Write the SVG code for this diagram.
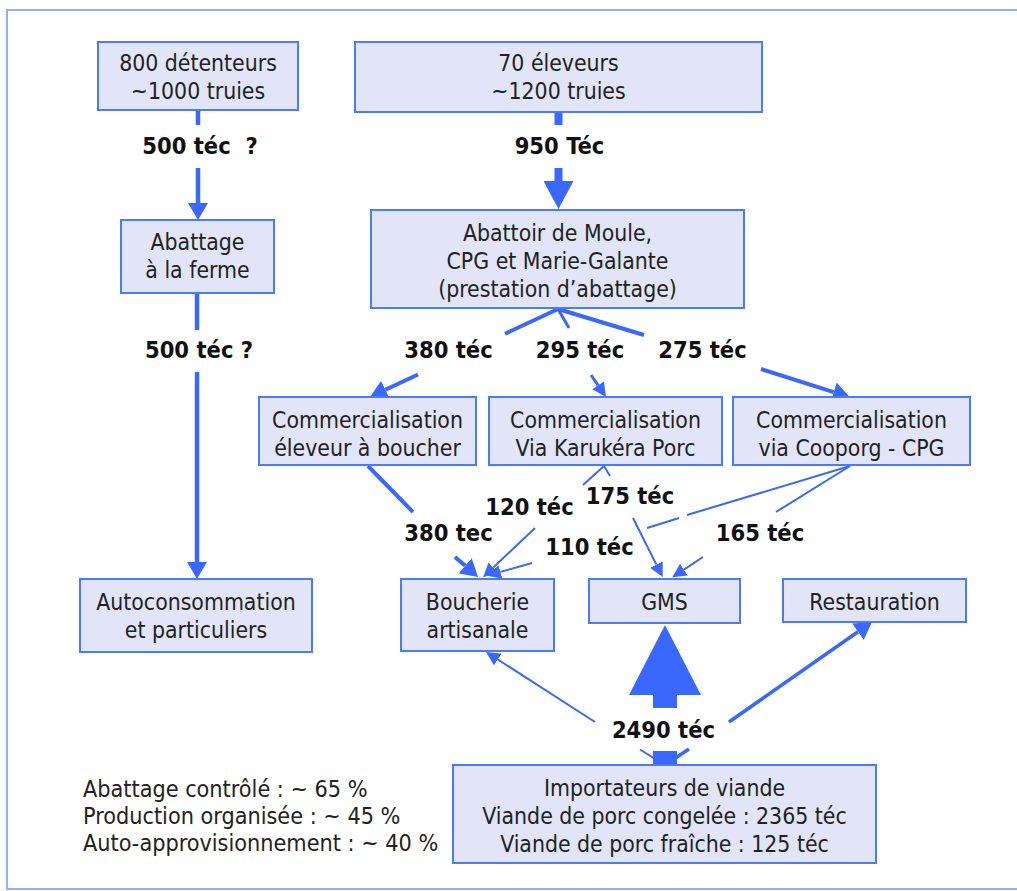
<svg xmlns="http://www.w3.org/2000/svg" width="1017" height="891" viewBox="0 0 1017 891">
<style>
.box{fill:#e1e5f7;stroke:#4a7bff;stroke-width:2}
.t{font-family:"DejaVu Sans Condensed","DejaVu Sans",sans-serif;font-stretch:condensed;font-size:22.8px;fill:#222;text-anchor:middle}
.lg{font-family:"DejaVu Sans Condensed","DejaVu Sans",sans-serif;font-stretch:condensed;font-size:23.2px;fill:#222}
.lbl{font-family:"DejaVu Sans Condensed","DejaVu Sans",sans-serif;font-stretch:condensed;font-size:23.5px;font-weight:bold;fill:#111;text-anchor:middle}
.c{fill:none;stroke:#3a68ff;stroke-linecap:butt}
.w4{stroke-width:4}
.w3{stroke-width:3}
.w2{stroke-width:2}
</style>
<defs>
<marker id="am" markerUnits="userSpaceOnUse" markerWidth="17" markerHeight="20" refX="0" refY="10" orient="auto" viewBox="0 0 17 20"><path d="M0,0 L17,10 L0,20 z" fill="#3a68ff"/></marker>
<marker id="as" markerUnits="userSpaceOnUse" markerWidth="14" markerHeight="14" refX="0" refY="7" orient="auto" viewBox="0 0 14 14"><path d="M0,0 L14,7 L0,14 z" fill="#3a68ff"/></marker>
<marker id="al" markerUnits="userSpaceOnUse" markerWidth="28" markerHeight="30" refX="0" refY="15" orient="auto" viewBox="0 0 28 30"><path d="M0,0 L28,15 L0,30 z" fill="#3a68ff"/></marker>
<marker id="ax" markerUnits="userSpaceOnUse" markerWidth="70" markerHeight="72" refX="0" refY="36" orient="auto" viewBox="0 0 70 72"><path d="M0,0 L70,36 L0,72 z" fill="#3a68ff"/></marker>
</defs>
<rect x="7" y="10" width="1020" height="879" fill="#fff" stroke="#8fb2f7" stroke-width="2"/>

<g id="connectors">
<path class="c" style="stroke-width:4.5" d="M198,110 V125 M198,168 V203" marker-end="url(#am)"/>
<path class="c" style="stroke-width:4.5" d="M197,293 V330 M197,372 V562" marker-end="url(#am)"/>
<path class="c" style="stroke-width:8" d="M558.5,112 V125 M558.5,168 V181" marker-end="url(#al)"/>
<path class="c w4" d="M558,309 L505,333.8 M418,374.5 L385.4,389.8" marker-end="url(#am)"/>
<path class="c w3" d="M558,309 L569,328 M591,375 L598.1,385.4" marker-end="url(#as)"/>
<path class="c w4" d="M558,309 L644,335 M761,369 L833.7,392.1" marker-end="url(#am)"/>
<path class="c w4" d="M368,466 L413,512 M455,557 L465.2,565.8" marker-end="url(#am)"/>
<path class="c w2" d="M604,466 L583,485 M535,528 L493.3,567.5" marker-end="url(#as)"/>
<path class="c w2" d="M604,466 L610,476 M633,518 L656.4,564.6" marker-end="url(#as)"/>
<path class="c w2" d="M850,466 L687,515 M679,518 L647,528 M532,563 L500.4,571.9" marker-end="url(#as)"/>
<path class="c w2" d="M850,466 L776,512 M703,557 L683.9,569.6" marker-end="url(#as)"/>
<path class="c" style="stroke-width:24" d="M665,765 V751 M665,708 V695" marker-end="url(#ax)"/>
<path class="c w2" d="M665,765 L640,749.5 M595,722 L497.8,659.5" marker-end="url(#as)"/>
<path class="c" style="stroke-width:3.5" d="M665,765 L689,749 M729,722 L858,631.7" marker-end="url(#am)"/>
</g>

<g id="n-detenteurs"><rect class="box" x="98" y="42" width="200" height="68"/><text class="t" x="198" y="71">800 détenteurs</text><text class="t" x="198" y="99">~1000 truies</text></g>
<g id="n-eleveurs"><rect class="box" x="355" y="42" width="407" height="70"/><text class="t" x="558.5" y="71">70 éleveurs</text><text class="t" x="558.5" y="99">~1200 truies</text></g>
<g id="n-abattage-ferme"><rect class="box" x="121" y="220" width="153" height="73"/><text class="t" x="197.5" y="250">Abattage</text><text class="t" x="197.5" y="278">à la ferme</text></g>
<g id="n-abattoir"><rect class="box" x="371" y="210" width="373" height="98"/><text class="t" x="557.5" y="241">Abattoir de Moule,</text><text class="t" x="557.5" y="269">CPG et Marie-Galante</text><text class="t" x="557.5" y="297">(prestation d’abattage)</text></g>
<g id="n-comm-boucher"><rect class="box" x="259" y="397" width="217" height="68"/><text class="t" x="367.5" y="428">Commercialisation</text><text class="t" x="367.5" y="456">éleveur à boucher</text></g>
<g id="n-comm-karukera"><rect class="box" x="489" y="397" width="233" height="68"/><text class="t" x="605.5" y="428">Commercialisation</text><text class="t" x="605.5" y="456">Via Karukéra Porc</text></g>
<g id="n-comm-cooporg"><rect class="box" x="733" y="397" width="237" height="68"/><text class="t" x="851.5" y="428">Commercialisation</text><text class="t" x="851.5" y="456">via Cooporg - CPG</text></g>
<g id="n-autoconso"><rect class="box" x="80" y="579" width="232" height="73"/><text class="t" x="196" y="610">Autoconsommation</text><text class="t" x="196" y="638">et particuliers</text></g>
<g id="n-boucherie"><rect class="box" x="401" y="579" width="153" height="72"/><text class="t" x="477.5" y="610">Boucherie</text><text class="t" x="477.5" y="638">artisanale</text></g>
<g id="n-gms"><rect class="box" x="589" y="579" width="151" height="44"/><text class="t" x="664.5" y="610">GMS</text></g>
<g id="n-restauration"><rect class="box" x="783" y="579" width="183" height="43"/><text class="t" x="874.5" y="610">Restauration</text></g>
<g id="n-importateurs"><rect class="box" x="453" y="765" width="423" height="98"/><text class="t" x="664.5" y="796">Importateurs de viande</text><text class="t" x="664.5" y="824">Viande de porc congelée : 2365 téc</text><text class="t" x="664.5" y="852">Viande de porc fraîche : 125 téc</text></g>

<g id="labels">
<text class="lbl" x="200" y="154" xml:space="preserve">500 téc  ?</text>
<text class="lbl" x="199" y="358">500 téc ?</text>
<text class="lbl" x="559.5" y="154">950 Téc</text>
<text class="lbl" x="448.5" y="358">380 téc</text>
<text class="lbl" x="580" y="358">295 téc</text>
<text class="lbl" x="702.5" y="358">275 téc</text>
<text class="lbl" x="448.5" y="541">380 tec</text>
<text class="lbl" x="529.5" y="515">120 téc</text>
<text class="lbl" x="630" y="504">175 téc</text>
<text class="lbl" x="589.5" y="555">110 téc</text>
<text class="lbl" x="760" y="541">165 téc</text>
<text class="lbl" x="663.5" y="738">2490 téc</text>
</g>

<g id="legend">
<text class="lg" x="83" y="797">Abattage contrôlé : ~ 65 %</text>
<text class="lg" x="83" y="824">Production organisée : ~ 45 %</text>
<text class="lg" x="83" y="851">Auto-approvisionnement : ~ 40 %</text>
</g>
</svg>
